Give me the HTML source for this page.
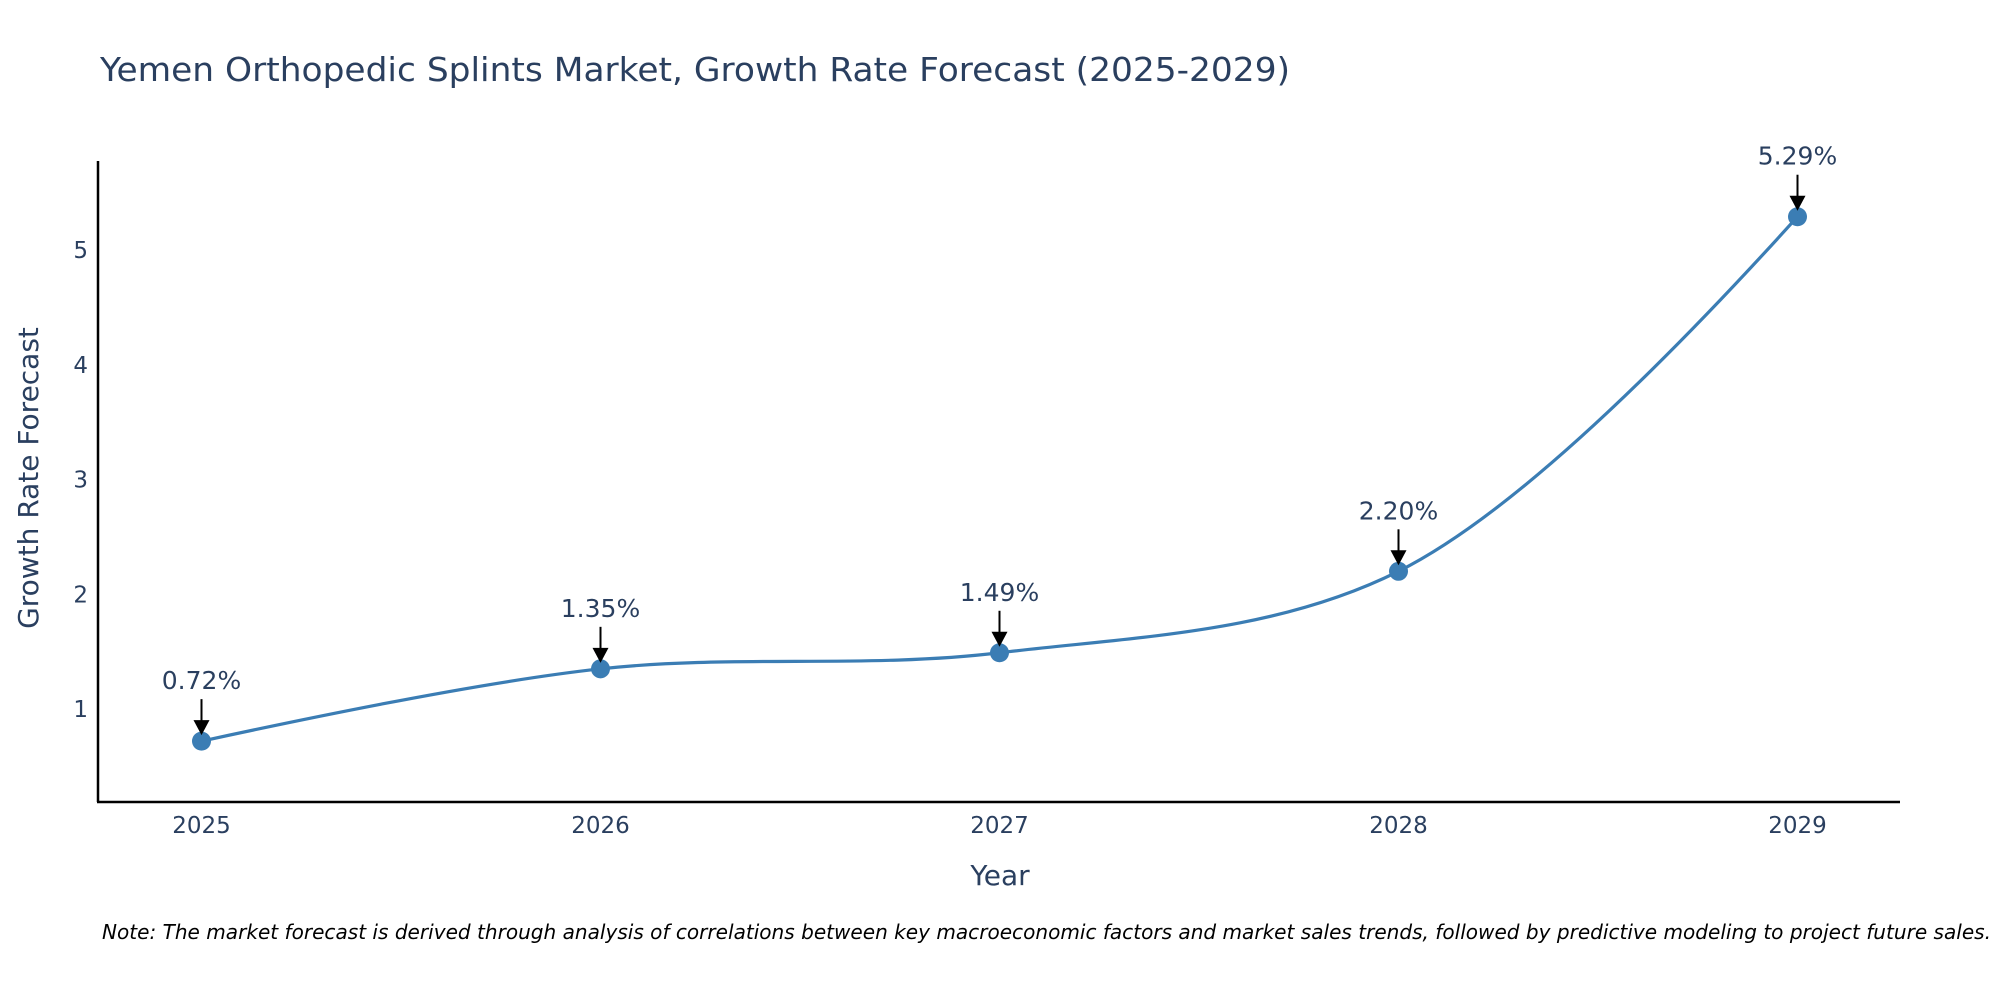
<!DOCTYPE html>
<html><head><meta charset="utf-8"><style>
html,body{margin:0;padding:0;background:#fff;}
svg{display:block;font-family:"DejaVu Sans","Liberation Sans",sans-serif;}
</style></head><body>
<svg id="chart" width="2000" height="1000" viewBox="0 0 2000 1000">
<text x="100" y="81" font-size="33" textLength="1190" lengthAdjust="spacingAndGlyphs" fill="#2a3f5f">Yemen Orthopedic Splints Market, Growth Rate Forecast (2025-2029)</text>
<g id="yticks"></g>
<g id="xticks"></g>
<path id="line" fill="none" stroke="#3b7db4" stroke-width="3.2"/>
<g id="marks"></g>
<g id="annots"></g>
<line x1="98" y1="161" x2="98" y2="802" stroke="#000" stroke-width="2.5"/>
<line x1="97" y1="802" x2="1900" y2="802" stroke="#000" stroke-width="2.5"/>
<text transform="translate(38,478) rotate(-90)" text-anchor="middle" font-size="28" fill="#2a3f5f">Growth Rate Forecast</text>
<text x="1000" y="885" text-anchor="middle" font-size="28" fill="#2a3f5f">Year</text>
<text x="102" y="939" font-size="20" font-style="italic" textLength="1889" lengthAdjust="spacingAndGlyphs" fill="#000">Note: The market forecast is derived through analysis of correlations between key macroeconomic factors and market sales trends, followed by predictive modeling to project future sales.</text>
</svg>
<script>
const categories=[2025,2026,2027,2028,2029];
const values=[0.72,1.35,1.49,2.20,5.29];
const labels=["0.72%","1.35%","1.49%","2.20%","5.29%"];
const yTicks=[1,2,3,4,5];
const NS="http://www.w3.org/2000/svg";
function xs(i){return 201.5+(categories[i]-categories[0])*399;}
function ys(v){return 709-(v-1)*114.75;}
function mk(t,a,p){const e=document.createElementNS(NS,t);for(const k in a)e.setAttribute(k,a[k]);if(p)p.appendChild(e);return e;}
const yg=document.getElementById('yticks');
yTicks.forEach(t=>{const e=mk('text',{x:88,y:ys(t)+8,'text-anchor':'end','font-size':23,fill:'#2a3f5f'},yg);


e.textContent=t;});
const xg=document.getElementById('xticks');
categories.forEach((c,i)=>{const e=mk('text',{x:xs(i),y:833,'text-anchor':'middle','font-size':23,fill:'#2a3f5f'},xg);


e.textContent=c;});
const P=values.map((v,i)=>[xs(i),ys(v)]);
function tangent(a,b,c,sm){
  const d1x=a[0]-b[0],d1y=a[1]-b[1],d2x=c[0]-b[0],d2y=c[1]-b[1];
  const d1a=Math.pow(d1x*d1x+d1y*d1y,0.25),d2a=Math.pow(d2x*d2x+d2y*d2y,0.25);
  const nx=(d2a*d2a*d1x-d1a*d1a*d2x)*sm,ny=(d2a*d2a*d1y-d1a*d1a*d2y)*sm;
  const den1=3*d2a*(d1a+d2a),den2=3*d1a*(d1a+d2a);
  return [[b[0]+nx/den1,b[1]+ny/den1],[b[0]-nx/den2,b[1]-ny/den2]];
}
const T=[];
for(let i=1;i<P.length-1;i++)T.push(tangent(P[i-1],P[i],P[i+1],1));
let d="M"+P[0]+"Q"+T[0][0]+" "+P[1];
for(let i=2;i<P.length-1;i++)d+="C"+T[i-2][1]+" "+T[i-1][0]+" "+P[i];
d+="Q"+T[P.length-3][1]+" "+P[P.length-1];
document.getElementById('line').setAttribute('d',d);
const mg=document.getElementById('marks'),ag=document.getElementById('annots');
P.forEach((p,i)=>{const c=mk('circle',{cx:p[0],cy:p[1],r:9.5,fill:'#3b7db4'},mg);


const l=mk('line',{x1:p[0],y1:p[1]-42,x2:p[0],y2:p[1]-20,stroke:'#000','stroke-width':2},ag);


const h=mk('polygon',{points:(p[0]-8)+","+(p[1]-21)+" "+(p[0]+8)+","+(p[1]-21)+" "+p[0]+","+(p[1]-6),fill:'#000'},ag);


const t=mk('text',{x:p[0],y:p[1]-52,'text-anchor':'middle','font-size':25,fill:'#2a3f5f'},ag);


t.textContent=labels[i];});
</script>
</body></html>
